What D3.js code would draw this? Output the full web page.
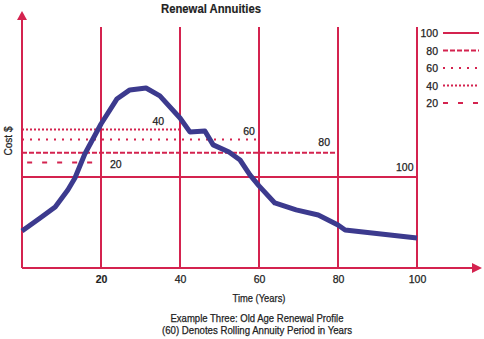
<!DOCTYPE html>
<html>
<head>
<meta charset="utf-8">
<script src="https://cdn.jsdelivr.net/npm/d3@7"></script>
<style>
  html, body { margin: 0; padding: 0; background: #fff; }
  svg { display: block; font-family: "Liberation Sans", Arial, sans-serif; }
</style>
</head>
<body>
<svg id="chart" width="484" height="339"></svg>
<script>
// Renewal cost profile over time (years, cost index)
const years = [0, 4.6, 8.4, 11.6, 13.4, 15.9, 20, 24, 27.3, 31.4, 34.9, 40, 42.5, 46.3, 48.4, 52.4, 55.2, 57.7, 60, 64, 69.4, 75, 80, 81.8, 100];
const cost  = [15.4, 20.8, 25.4, 32.5, 37.5, 47.5, 60, 70.4, 74.2, 75, 71.7, 62.5, 56.7, 57.1, 51.3, 48.3, 45, 38.8, 34.2, 27.1, 24.2, 22.1, 17.9, 15.8, 12.5];

// Rolling annuity periods and their level annual cost
const periods = [20, 40, 60, 80, 100];
const annuityLevel = [44, 57.7, 53.5, 48, 37.9];
const periodStart = [1.3, 0, 0, 0, 0];

// Legend order
const legendPeriods = [100, 80, 60, 40, 20];

// x-axis tick labels
const xTicks = [20, 40, 60, 80, 100];

const RED = "#d4234f";
const BLUE = "#3c3a8e";
const INK = "#222";

const dashFor = {
  100: null,
  80: "5,2",
  60: "2,6",
  40: "2,2",
  20: "5,10"
};

const svg = d3.select("#chart");
const x = d3.scaleLinear().domain([0, 100]).range([22, 417]);
const y = d3.scaleLinear().domain([0, 100]).range([268, 28]);

// Condensed text helper
function label(xp, yp, str, size, width, opts = {}) {
  const t = svg.append("text").attr("x", xp).attr("y", yp)
    .attr("text-anchor", opts.anchor || "middle")
    .attr("font-size", size).attr("fill", INK)
    .attr("stroke", INK).attr("stroke-width", opts.bold ? 0.15 : 0.25)
    .attr("font-weight", opts.bold ? "bold" : "normal")
    .text(str);
  if (width) t.attr("textLength", width).attr("lengthAdjust", "spacingAndGlyphs");
  return t;
}

// Title
label(211, 13, "Renewal Annuities", 13, 100, { bold: true });

// Vertical period markers
svg.selectAll("line.vgrid").data(xTicks).enter().append("line")
  .attr("class", "vgrid")
  .attr("x1", d => x(d)).attr("x2", d => x(d))
  .attr("y1", y(100) - 1).attr("y2", y(0))
  .attr("stroke", RED).attr("stroke-width", 2);

// Horizontal annuity levels
periods.forEach((p, i) => {
  svg.append("line")
    .attr("x1", x(periodStart[i])).attr("x2", x(p))
    .attr("y1", y(annuityLevel[i])).attr("y2", y(annuityLevel[i]))
    .attr("stroke", RED).attr("stroke-width", 2)
    .attr("stroke-dasharray", dashFor[p]);
});

// Level labels: [year position, offset above level]
const levelLabelPos = {
  40: [34.5, 1.9],
  60: [57.5, 1.9],
  80: [76.5, 2.8],
  100: [96.9, 2.5]
};
periods.forEach((p, i) => {
  if (p === 20) {
    label(x(p) + 9, y(annuityLevel[i] - 2.4), p, 10.5, null, { anchor: "start" });
  } else {
    const [lx, dy] = levelLabelPos[p];
    label(x(lx), y(annuityLevel[i] + dy), p, 10.5, null);
  }
});

// Axes
const xAxis = d3.axisBottom(x).tickValues(xTicks).tickSize(0).tickPadding(8);
const gx = svg.append("g").attr("transform", `translate(0,${y(0)})`).call(xAxis);
gx.select(".domain").remove();
gx.selectAll("text").attr("font-size", 10.5).attr("fill", INK)
  .attr("font-family", null)
  .attr("stroke", INK).attr("stroke-width", d => d === 20 ? 0.15 : 0.25)
  .attr("font-weight", d => d === 20 ? "bold" : "normal");

svg.append("line").attr("x1", x(0)).attr("x2", 475)
  .attr("y1", y(0)).attr("y2", y(0))
  .attr("stroke", RED).attr("stroke-width", 2);
svg.append("path").attr("d", `M482,${y(0)} L472,${y(0) - 5} L472,${y(0) + 5} Z`).attr("fill", RED);

svg.append("line").attr("x1", x(0)).attr("x2", x(0))
  .attr("y1", y(0)).attr("y2", 18)
  .attr("stroke", RED).attr("stroke-width", 2);
svg.append("path").attr("d", `M${x(0)},11 L${x(0) - 5},20 L${x(0) + 5},20 Z`).attr("fill", RED);

// Cost curve
const line = d3.line().x((d, i) => x(years[i])).y(d => y(d));
svg.append("path").datum(cost)
  .attr("d", line)
  .attr("fill", "none").attr("stroke", BLUE)
  .attr("stroke-width", 5).attr("stroke-linejoin", "round");

// Axis titles and captions
label(0, 0, "Cost $", 11, 29).attr("transform", "translate(12,141) rotate(-90)");
label(259, 302, "Time (Years)", 11, 53);
label(257, 322, "Example Three: Old Age Renewal Profile", 11, 173);
label(257, 334, "(60) Denotes Rolling Annuity Period in Years", 11, 190);

// Legend
const legendY = d3.scalePoint().domain(legendPeriods).range([33, 103]);
legendPeriods.forEach(p => {
  label(438, legendY(p) + 4, p, 10.5, null, { anchor: "end" });
  svg.append("line").attr("x1", 443).attr("x2", 479)
    .attr("y1", legendY(p)).attr("y2", legendY(p))
    .attr("stroke", RED).attr("stroke-width", 2)
    .attr("stroke-dasharray", dashFor[p]);
});
</script>
</body>
</html>
